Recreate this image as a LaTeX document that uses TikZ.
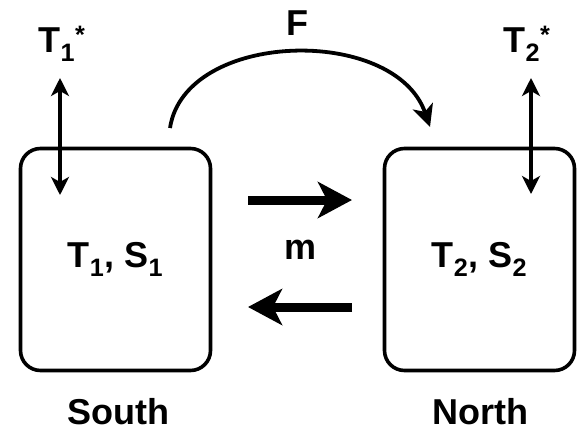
\documentclass[tikz,border=0pt]{standalone}
\usepackage{fontspec}
\setmainfont{Liberation Sans}
\usetikzlibrary{arrows.meta}
\tikzset{
  basin/.style={draw, line width=3.6pt, rounded corners=20pt, minimum width=190pt, minimum height=222pt, inner sep=0pt},
  lbl/.style={font=\fontsize{36}{40}\selectfont\bfseries, inner sep=0pt},
  exch/.style={line width=3.8pt, {Stealth[length=18pt,width=18pt,inset=5pt]}-{Stealth[length=18pt,width=18pt,inset=5pt]}},
  flux/.style={line width=9pt, -{Stealth[length=34pt,width=36pt,inset=9pt]}},
  over/.style={line width=3.8pt, -{Stealth[length=22pt,width=21pt,inset=6pt]}}
}
\begin{document}
\begin{tikzpicture}[x=1pt,y=-1pt]
\useasboundingbox (0,0) rectangle (577,431);

% the two boxes
\node[basin, lbl] (south) at (115.5,259.5) {T\textsubscript{1}, S\textsubscript{1}};
\node[basin, lbl] (north) at (479.5,259.5) {T\textsubscript{2}, S\textsubscript{2}};
\node[lbl] (southname) at (118,412) {South};
\node[lbl] (northname) at (480,412) {North};

% atmospheric temperatures and exchange arrows
\node[lbl] (t1star) at (62,44) {T\textsubscript{1}\textsuperscript{*}};
\node[lbl] (t2star) at (527,44) {T\textsubscript{2}\textsuperscript{*}};
\coordinate (t1a) at (60,78);
\coordinate (t1b) at (60,195);
\coordinate (t2a) at (531,78);
\coordinate (t2b) at (531,194);
\draw[exch] (t1a) -- (t1b);
\draw[exch] (t2a) -- (t2b);

% overturning flux F
\node[lbl] (flab) at (297,23) {F};
\coordinate (fstart) at (170,128);
\coordinate (fend) at (430,127);
\draw[over] (fstart) .. controls (185,30) and (395,25) .. (fend);

% mixing m
\node[lbl] (mlab) at (300,250) {m};
\coordinate (mr1) at (248,200);
\coordinate (mr2) at (352,200);
\coordinate (ml1) at (352,307);
\coordinate (ml2) at (248,307);
\draw[flux] (mr1) -- (mr2);
\draw[flux] (ml1) -- (ml2);
\end{tikzpicture}
\end{document}
